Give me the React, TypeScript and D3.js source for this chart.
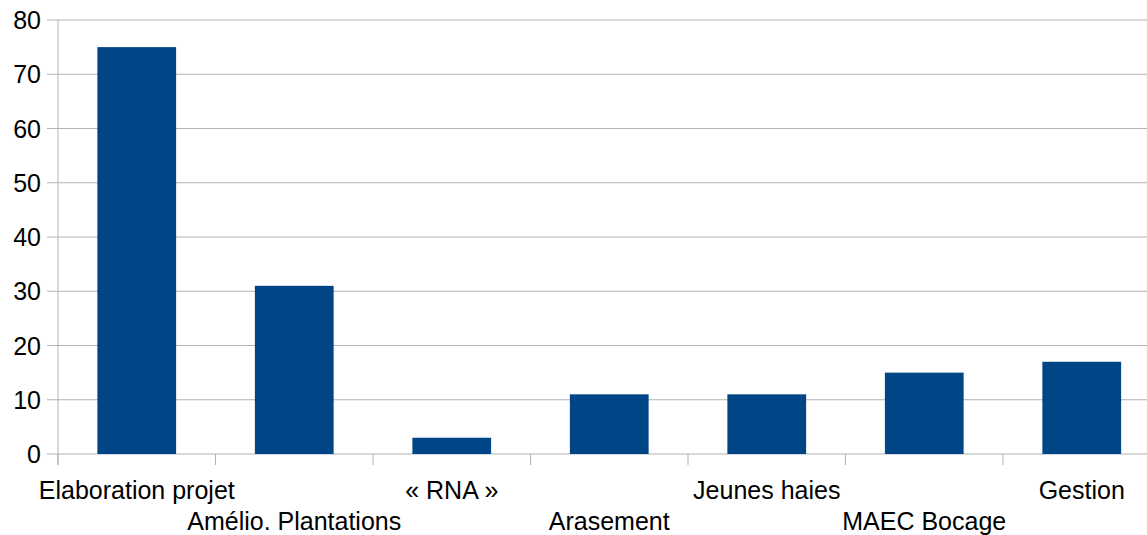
import React from "react";
import * as d3 from "d3";

const categories = ["Elaboration projet", "Amélio. Plantations", "« RNA »", "Arasement", "Jeunes haies", "MAEC Bocage", "Gestion"];
const values = [75, 31, 3, 11, 11, 15, 17];
const yTicks = [0, 10, 20, 30, 40, 50, 60, 70, 80];

export default function App() {
  const W = 1147, H = 535;
  const left = 58, top = 20, bottom = 454;
  const band = 157.5;
  const x = d3.scaleBand<string>().domain(categories).range([left, left + band * categories.length]).paddingInner(0.5).paddingOuter(0.25);
  const y = d3.scaleLinear().domain([0, 80]).range([bottom, top]);
  const grid = "#b3b3b3";
  const font = "'Liberation Sans', Arial, sans-serif";
  return (
    <svg width={W} height={H} style={{ position: "absolute", left: 0, top: 0, background: "#fff" }}>
      {yTicks.map((t) => (
        <g key={t}>
          <line x1={left - 11} x2={W} y1={y(t)} y2={y(t)} stroke={grid} strokeWidth={1} />
          <text x={41} y={y(t)} dy="0.36em" textAnchor="end" fontFamily={font} fontSize={25} fill="#000">{t}</text>
        </g>
      ))}
      <line x1={left} x2={left} y1={top} y2={bottom + 11} stroke={grid} strokeWidth={1} />
      {categories.map((c, i) => (
        <line key={"tk" + i} x1={left + band * i} x2={left + band * i} y1={bottom} y2={bottom + 11} stroke={grid} strokeWidth={1} />
      ))}
      {categories.map((c, i) => (
        <rect key={c} x={x(c)} y={y(values[i])} width={x.bandwidth()} height={bottom - y(values[i])} fill="#004586" />
      ))}
      {categories.map((c, i) => (
        <text key={"l" + i} x={(x(c) as number) + x.bandwidth() / 2} y={i % 2 === 0 ? 499 : 530} textAnchor="middle" fontFamily={font} fontSize={25} fill="#000">{c}</text>
      ))}
    </svg>
  );
}
